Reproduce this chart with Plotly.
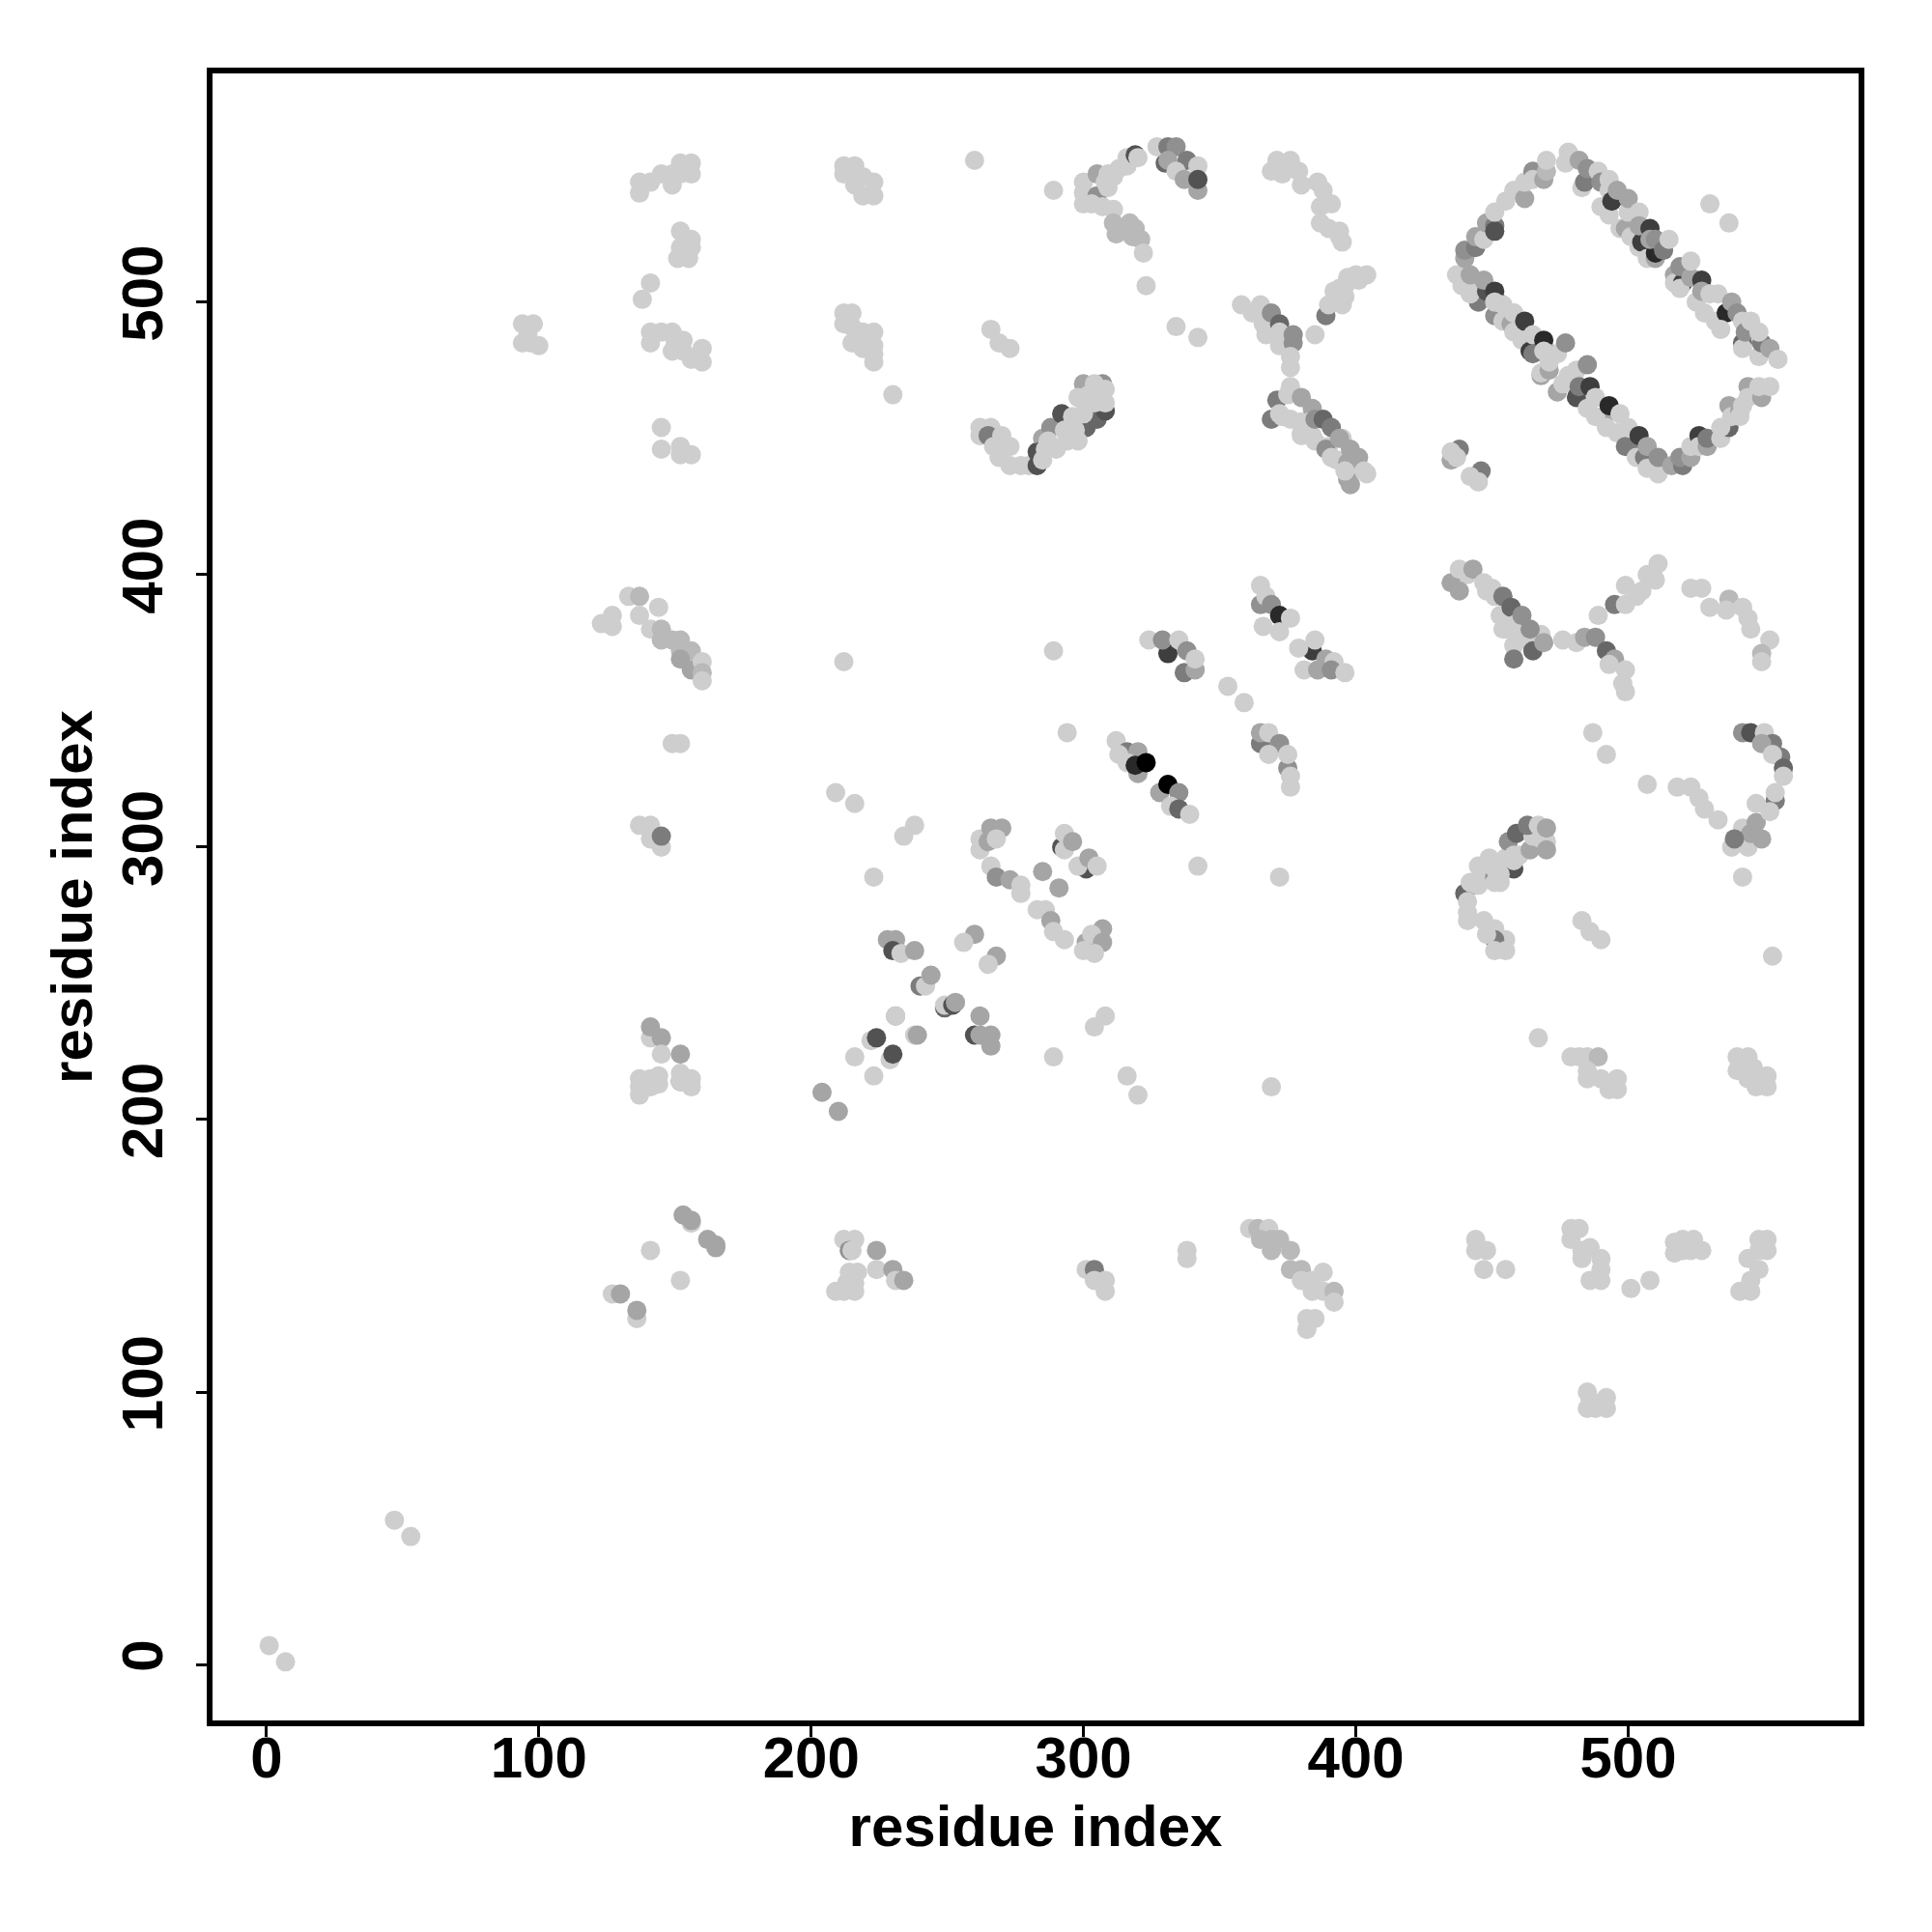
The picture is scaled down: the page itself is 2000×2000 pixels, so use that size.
import plotly.graph_objects as go

# (residue_i, residue_j, score) ; score 0 = weakest .. 10 = strongest
diag_low = [(1,7,0),(7,1,0),(47,53,0),(53,47,0)]
top_left = [(94,492,0),(98,492,0),(94,485,0),(97,485,0),(100,484,0),(96,488,0),
 (137,540,0),(137,544,0),(141,544,0),(145,547,0),(149,547,0),(149,543,0),(152,551,0),(156,551,0),(152,547,0),(156,547,0),(154,549,0),
 (152,526,0),(156,523,0),(156,520,0),(151,516,0),(155,516,0),(152,520,0),(141,507,0),(138,501,0),
 (141,489,0),(141,485,0),(145,489,0),(149,489,0),(153,486,0),(149,482,0),(153,482,0),(156,479,0),(160,483,0),(160,478,0),(150,486,0),
 (145,454,0),(145,446,0),(152,447,0),(152,444,0),(156,444,0)]
top_mid = [(212,550,0),(216,550,0),(212,547,0),(219,546,0),(216,543,0),(223,544,0),(219,539,0),(223,539,0),(216,546,0),(260,552,0),
 (212,496,0),(215,496,0),(212,492,0),(215,491,0),(215,485,0),(219,483,0),(219,489,0),(223,489,0),(223,484,0),(223,481,0),(223,478,0),(230,466,0),
 (266,490,0),(269,485,0),(273,483,0),(289,541,0),(323,506,0)]
v_left = [(262,454,0),(266,454,0),(262,451,0),(265,451,4),(270,451,0),(267,447,0),(273,447,0),(269,443,0),(273,440,0),(277,440,0),(280,440,0),
 (283,440,6),(283,445,6),(285,450,2),(288,454,3),(292,459,6),(301,454,5),(305,457,5),(308,460,6),(300,470,2),(307,470,3),
 (284,445,6),(285,442,0),(286,446,0),(287,449,0),(290,446,0),(294,449,0),(298,449,0),(293,453,0),(297,453,0),(296,458,0),(300,459,0),
 (298,465,0),(302,466,0),(304,470,0),(304,463,0),(308,463,0),(308,468,0)]
arch = [(300,544,0),(300,540,0),(300,536,0),(305,547,2),(305,539,3),(309,547,0),(309,542,0),(308,544,0),(313,549,0),(311,546,0),(316,553,0),(316,550,0),(319,554,6),(320,553,0),
 (330,551,5),(327,557,0),(331,557,4),(334,557,3),(338,552,4),(331,552,2),(334,548,0),(337,545,2),(342,550,0),(342,541,2),(342,545,6),
 (303,536,0),(307,535,0),(311,534,0),(311,529,1),(313,527,1),(319,527,1),(321,523,1),(318,524,1),(322,518,0),(312,525,1),(317,529,1)]
arc2 = [(369,548,0),(371,552,0),(376,552,0),(373,547,0),(379,548,0),(380,543,0),(386,544,0),(388,541,0),(387,535,0),(391,536,0),(387,529,0),(394,526,0),(394,524,0),(395,522,0),(390,527,0),(334,491,0),(342,487,0)]
cross_top = [(358,499,0),(365,499,0),(362,496,0),(366,492,0),(367,488,0),(369,496,3),(372,492,5),(372,489,0),(372,484,0),(377,488,3),(377,485,3),(376,476,0),(376,480,0),
 (389,495,4),(385,488,0),(390,499,0),(395,499,0),(392,504,0),(396,506,0),(397,509,0),(400,510,0),(404,510,0),(396,502,0),(394,505,0),(401,508,0)]
cross_low = [(369,457,4),(371,464,4),(373,458,0),(372,459,0),(376,469,0),(375,466,0),(376,457,0),(380,465,2),(380,456,0),(384,461,2),(383,456,0),(380,452,0),(380,451,0),(385,449,0),(384,451,0),
 (385,457,3),(388,457,5),(391,454,4),(395,450,0),(390,447,0),(389,446,3),(391,443,0),(393,442,0),(394,450,2),(398,446,2),(401,443,2),(397,441,2),(398,433,2),(397,435,2),(396,438,0),(404,437,0),(403,438,0),
 (438,446,4),(435,442,2),(435,445,0),(437,443,0),(446,438,4),(442,436,0),(445,434,0)]
ring_nw = [(445,500,4),(439,506,0),(437,510,0),(442,503,0),(443,507,0),(442,510,2),(440,516,2),(440,519,3),(444,520,4),(444,524,2),(447,523,0),
 (448,529,2),(451,528,4),(451,526,6),(451,533,0),(455,537,0),(458,541,0),(462,538,2),(462,544,0),(465,548,3),(465,545,0),(469,545,2),(470,548,1),(470,552,0),
 (452,500,7),(448,504,6),(447,508,2),(451,504,7),(451,495,3),(451,500,0),(454,499,0),(454,493,0),(457,492,2),(458,496,0),(458,496,0),(458,489,0),(461,486,0),(464,482,7),(465,481,4),(462,493,7),(465,488,0),(469,486,8),
 (472,481,2),(468,473,2),(468,474,0),(471,475,2),(471,478,0),(469,482,0),(474,481,0),(477,485,3)]
ring_s = [(474,467,2),(476,470,0),(478,473,0),(481,475,0),(481,465,6),(482,469,4),(485,461,0),(485,477,3),(486,469,7),(488,465,0),(491,458,2),(488,458,0),(492,454,0),(496,452,0),(493,462,8),(497,459,0),(500,454,0),
 (499,447,4),(503,447,4),(504,451,7),(503,443,0),(506,443,4),(507,439,0),(507,447,2),(511,437,0),(511,443,3),(516,440,2),(520,440,4),(519,443,3),(523,443,2),(523,447,0),
 (526,451,7),(526,447,0),(529,447,2),(529,450,4),(534,450,0),(537,454,5),(534,454,0),(537,462,2),(538,458,0),(541,460,2),(541,458,0),(542,462,0),(544,469,2),(544,465,0),(549,465,2),(548,469,0),(552,469,0)]
ring_ne = [(477,551,0),(478,555,0),(483,542,0),(484,544,4),(482,552,2),(485,549,3),(490,535,0),(489,548,0),(490,544,3),(493,541,0),(493,532,0),(494,537,7),(493,545,0),(496,541,2),
 (497,527,0),(501,525,8),(499,527,2),(500,533,0),(501,524,0),(500,538,2),(504,520,0),(504,533,0),(505,522,7),(507,516,0),(504,528,2),(510,516,2),(510,518,8),(508,527,7),(508,523,2),(510,523,3),(513,519,4),(515,523,0),
 (517,510,2),(517,507,0),(520,507,7),(519,505,0),(519,513,3),(523,509,2),(523,515,0),(527,508,7),(525,500,0),(527,504,2),(528,496,0),(530,503,0),(533,503,0),(532,493,0),(536,496,8),(534,490,0),(538,500,2),(540,496,3),
 (542,485,5),(542,483,0),(542,493,0),(543,489,3),(545,493,0),(548,480,0),(549,485,4),(548,489,0),(552,483,2),(555,479,0),
 (530,536,0),(537,529,0)]
mid_cluster = [(289,372,0),(212,368,0),(324,376,0),(331,371,7),(329,376,3),(335,376,0),(338,372,3),(337,364,4),(341,365,2),(341,369,0),
 (365,389,3),(365,396,0),(367,392,0),(369,389,3),(372,385,8),(376,384,0),(366,381,0),(372,379,0),
 (384,372,7),(385,376,0),(379,373,0),(389,369,2),(392,368,0),(381,365,0),(386,365,2),(391,365,3),(396,364,0),
 (353,359,0),(359,353,0)]
upper_right = [(441,400,0),(448,394,0),(451,392,0),(453,385,0),(455,380,0),(460,379,0),(464,375,0),(468,378,0),(458,374,0),
 (435,397,2),(438,394,2),(438,402,0),(443,402,2),(447,397,0),(450,395,0),(458,369,4),(465,372,5),(454,392,4),(457,388,5),(459,382,0),(454,380,0),(461,385,3),(464,380,3),(469,375,2),
 (476,376,0),(481,375,0),(484,377,2),(488,377,3),(489,385,0),(492,372,5),(495,369,2),(493,367,0),(499,365,0),(498,360,0),(499,357,0),
 (495,389,4),(499,396,0),(499,389,0),(503,392,0),(505,394,0),(507,400,0),(510,398,0),(511,404,0),
 (523,395,0),(527,395,0),(530,388,0),(537,391,1),(536,387,0),(542,388,0),(544,384,0),(545,380,0),(552,376,0),(549,371,1),(549,368,0)]
row_340 = [(294,342,0),(312,339,0),(316,335,4),(320,335,2),(313,334,0),(316,331,0),(320,327,2),(319,330,8),(323,331,10),
 (328,320,2),(331,323,10),(335,320,3),(332,315,0),(335,314,5),(339,312,0),
 (365,338,4),(365,342,2),(368,342,0),(372,338,3),(368,334,0),(375,329,3),(375,334,0),(376,326,0),(376,322,0),
 (487,342,0),(492,334,0),(507,323,0),
 (518,322,0),(523,322,0),(526,318,0),(528,314,0),(533,310,0),(542,307,0),(538,300,0),(544,300,0),(545,305,2),(549,303,2),(539,303,4),(547,309,2),(547,316,0),(554,317,4),(554,320,0),(552,313,0),
 (542,342,3),(545,342,6),(550,342,0),(553,338,4),(549,338,2),(556,333,4),(553,334,0),(557,329,5),(557,326,0)]
center = [(262,303,0),(262,299,0),(266,307,2),(270,307,2),(265,302,2),(268,303,0),
 (266,293,0),(268,289,3),(273,288,2),(277,286,0),(277,283,0),(285,291,2),(291,285,2),(283,277,0),(286,277,0),(288,273,2),(289,269,0),(293,266,0),
 (292,300,6),(293,305,0),(293,299,0),(296,302,2),(301,292,6),(298,293,0),(302,296,2),(305,293,0),
 (301,265,2),(307,270,2),(303,268,0),(307,265,2),(300,262,0),(304,261,0),
 (223,289,0),(234,304,0),(238,308,0),(209,320,0),(216,316,0),(372,289,0),(342,293,0),(542,289,0),(553,260,0),
 (228,266,2),(231,266,2),(230,262,6),(233,261,0),(238,262,2),(260,268,2),(256,265,0),(268,260,2),(265,257,0),
 (240,249,4),(242,249,0),(244,253,2),(249,241,5),(249,242,0),(252,242,6),(253,243,2),
 (260,231,6),(262,238,2),(262,231,2),(266,231,2),(266,227,2),(308,238,0),(304,234,0),(289,223,0),(316,216,0),(320,209,0),
 (204,210,2),(210,203,2),(223,216,0),(216,223,0),(222,229,0),(224,230,6),(229,222,0),(230,224,6),(231,238,2),(231,238,0),(238,231,0),(239,231,2)]
left_cluster = [(123,382,0),(127,385,0),(127,381,0),(133,392,0),(137,392,1),(137,385,0),(144,388,0),(141,380,0),(145,380,1),(145,376,1),(149,376,1),(152,376,1),(152,372,1),(156,372,1),(152,369,2),(156,365,2),(160,368,0),(160,364,1),(160,361,0),
 (149,338,0),(152,338,0),(137,308,0),(141,308,0),(141,303,0),(145,300,0),(145,304,4)]
low_left = [(141,230,0),(141,234,2),(145,230,2),(145,224,0),(152,224,2),(152,214,4),
 (137,215,0),(137,212,0),(137,209,0),(141,215,0),(141,212,0),(144,216,0),(144,213,0),(152,217,0),(152,214,0),(156,215,0),(156,212,0),
 (156,162,0),(153,165,2),(156,163,2),(162,156,2),(165,154,2),(165,153,2),(141,152,0),(152,141,0),
 (127,136,0),(130,136,2),(136,127,0),(136,130,2)]
low_mid = [(212,156,0),(216,156,0),(214,152,3),(215,152,0),(224,152,2),(224,145,0),(230,145,2),(214,144,0),(217,144,0),(213,140,0),(216,140,0),(231,141,0),(234,141,2),(209,137,0),(212,137,0),(216,137,0),
 (301,145,0),(304,145,4),(304,141,0),(308,141,0),(308,137,0),(369,212,0),(338,152,0),(338,149,0),
 (467,230,0),(479,223,0),(482,223,0),(485,223,0),(489,223,1),(485,218,0),(485,215,0),(490,215,0),(493,211,0),(496,211,0),(496,215,0),
 (540,223,0),(544,223,0),(540,218,0),(546,219,0),(544,215,0),(551,216,0),(547,212,0),(551,212,0)]
low_right = [(361,160,0),(364,160,1),(368,160,0),(365,156,1),(369,156,1),(372,156,1),(369,152,1),(376,152,1),(376,145,1),(380,145,1),(380,141,0),(384,141,0),(388,144,0),(384,137,0),(388,137,0),(392,137,1),(392,133,0),(382,127,0),(385,127,0),(382,123,0),
 (444,156,0),(444,152,0),(448,152,0),(447,145,0),(455,145,0),
 (479,160,0),(482,160,0),(479,156,0),(483,152,0),(486,153,0),(483,149,0),(490,149,0),(490,145,0),(486,141,0),(490,141,0),(501,138,0),(508,141,0),
 (517,155,0),(517,151,0),(520,156,0),(524,156,0),(520,152,0),(523,152,0),(527,152,0),
 (548,156,0),(551,156,0),(548,152,0),(551,152,0),(544,149,0),(548,145,0),(545,141,0),(541,137,0),(545,137,0),
 (485,100,0),(492,98,0),(486,97,0),(485,94,0),(488,94,0),(492,94,0)]
lower_v = [(440,283,5),(444,286,2),(446,289,0),(442,287,0),(445,293,0),(445,286,0),(451,289,3),(453,287,0),(451,287,0),(455,292,2),(458,292,6),(450,293,0),(453,290,0),(449,296,0),(455,296,0),(458,295,0),(460,297,0),(456,302,3),(459,305,5),(458,297,0),(464,299,2),(465,304,0),(463,308,4),(467,308,0),(468,303,0),(470,302,0),(470,307,2),(470,299,2),
 (441,280,0),(441,276,0),(441,273,0),(447,273,0),(451,270,0),(455,266,0),(451,266,4),(451,262,0),(455,262,0),(448,268,0),
 (483,273,0),(486,269,0),(490,266,0)]

tick_values = [0, 100, 200, 300, 400, 500]
axis_label = "residue index"

regions = [diag_low, top_left, top_mid, v_left, arch, arc2, cross_top, cross_low, ring_nw, ring_s, ring_ne,
           mid_cluster, upper_right, row_340, center, left_cluster, low_left, low_mid, low_right, lower_v]
points = [p for r in regions for p in r]

fig = go.Figure(go.Scatter(
    x=[p[0] for p in points], y=[p[1] for p in points], mode="markers",
    marker=dict(size=20, color=[p[2] for p in points], cmin=0, cmax=10,
                colorscale=[[0, "#cecece"], [1, "#000000"]], showscale=False, line=dict(width=0), opacity=1),
    hoverinfo="skip"))

font = dict(family="Liberation Sans, Arial, sans-serif", size=60, color="black", weight="bold")
axis = dict(tickmode="array", tickvals=tick_values, ticktext=[str(v) for v in tick_values],
            showgrid=False, zeroline=False, showline=True, mirror=True, linecolor="black", linewidth=5.5,
            ticks="outside", ticklen=11, tickwidth=3, tickcolor="black", tickfont=font)
fig.update_layout(
    width=2000, height=2000, paper_bgcolor="white", plot_bgcolor="white", showlegend=False,
    margin=dict(l=212, r=83.5, t=68, b=226.5, autoexpand=False),
    xaxis=dict(axis, range=[-19.8, 584.6], ticklabelstandoff=-30, title=dict(text=axis_label, font=font, standoff=19)),
    yaxis=dict(axis, range=[-20.5, 583.9], tickangle=-90, ticklabelstandoff=11, title=dict(text=axis_label, font=font, standoff=1)),
)
fig.write_html("out.html")
